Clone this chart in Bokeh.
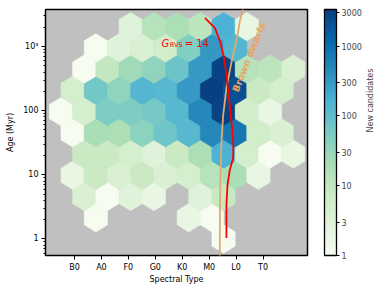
import numpy as np
from bokeh.plotting import figure
from bokeh.models import (Range1d, FixedTicker, LogColorMapper, ColorBar, Label,
                          PrintfTickFormatter, ColumnDataSource, LinearAxis)
from bokeh.embed import file_html
from bokeh.resources import INLINE

# ---------------- data ----------------
spectral_ticks = [10, 20, 30, 40, 50, 60, 70, 80]
spectral_labels = ["B0", "A0", "F0", "G0", "K0", "M0", "L0", "T0"]
age_ticks = [1, 10, 100, 1000]
age_tick_labels = ["1", "10", "100", "10³"]
cbar_ticks = [1, 3, 10, 30, 100, 300, 1000, 3000]

# hexbin grid (spectral type numeric: B0=10 ... T0=80; age in log10 Myr)
sp_min = 5.0
sp_step = 8.62
logage_min = 0.0
logage_step = 0.662

hex_row = [0,
           1, 1, 1,
           2, 2, 2, 2, 2, 2,
           3, 3, 3, 3, 3, 3, 3, 3, 3,
           4, 4, 4, 4, 4, 4, 4, 4, 4, 4,
           5, 5, 5, 5, 5, 5, 5, 5, 5, 5,
           6, 6, 6, 6, 6, 6, 6, 6, 6, 6,
           7, 7, 7, 7, 7, 7, 7, 7, 7, 7,
           8, 8, 8, 8, 8, 8, 8, 8, 8, 8,
           9, 9, 9, 9, 9, 9, 9,
           10, 10, 10, 10, 10, 10]
hex_col = [7,
           1, 5, 6,
           1, 2, 3, 4, 6, 7,
           0, 1, 2, 3, 4, 5, 6, 7, 8,
           1, 2, 3, 4, 5, 6, 7, 8, 9, 10,
           0, 1, 2, 3, 4, 5, 6, 7, 8, 9,
           0, 1, 2, 3, 4, 5, 6, 7, 8, 9,
           0, 1, 2, 3, 4, 5, 6, 7, 8, 9,
           1, 2, 3, 4, 5, 6, 7, 8, 9, 10,
           1, 2, 3, 4, 5, 6, 7,
           3, 4, 5, 6, 7, 8]
hex_count = [1,
             1, 2, 1,
             4, 1, 3, 2, 3, 9,
             2, 8, 4, 8, 4, 5, 14, 20, 2,
             8, 8, 5, 3, 8, 18, 160, 5, 1, 2,
             1, 20, 18, 40, 75, 130, 500, 800, 6, 4,
             1, 5, 55, 55, 65, 130, 500, 3000, 6, 2,
             5, 70, 35, 140, 130, 320, 3350, 2200, 8, 5,
             1, 10, 25, 35, 80, 320, 3000, 14, 12, 4,
             1, 3, 4, 6, 50, 330, 140,
             3, 14, 18, 12, 160, 2]

# G_RVS = 14 limit
grvs_sp = [58.4, 62.1, 64.1, 65.5, 66.4, 67.1, 67.8, 68.4, 68.95, 68.9, 67.65, 66.8, 66.4, 66.4]
grvs_age = [2805, 1958, 1184, 666, 366, 196, 103, 60, 32.6, 18.4, 11.9, 7.0, 3.4, 1.04]

# Brown dwarf limit
bd_sp = [72.9, 71.4, 70.1, 68.3, 66.4, 65.2, 64.56, 64.2, 64.0, 63.93]
bd_age = [4470, 2490, 1214, 577, 227, 86, 33.8, 10.0, 3.05, 0.54]

# ---------------- geometry of hexagons ----------------
r = np.array(hex_row)
i = np.array(hex_col)
cx = sp_min + sp_step * (i + 0.5 * (r % 2))
cy = logage_min + 0.5 * logage_step * r
hx = sp_step * np.array([0.5, 0.5, 0.0, -0.5, -0.5, 0.0])
hy = logage_step / 3.0 * np.array([-0.5, 0.5, 1.0, 0.5, -0.5, -1.0])
xs = [list(x + hx) for x in cx]
ys = [list(10 ** (y + hy)) for y in cy]

# GnBu colormap interpolated to 256 levels
gnbu9 = ["#f7fcf0", "#e0f3db", "#ccebc5", "#a8ddb5", "#7bccc4",
         "#4eb3d3", "#2b8cbe", "#0868ac", "#084081"]
rgb9 = np.array([[int(c[k:k + 2], 16) for k in (1, 3, 5)] for c in gnbu9], float)
t9 = np.linspace(0, 1, 9)
t256 = np.linspace(0, 1, 256)
pal = []
for t in t256:
    rr = np.interp(t, t9, rgb9[:, 0])
    gg = np.interp(t, t9, rgb9[:, 1])
    bb = np.interp(t, t9, rgb9[:, 2])
    pal.append("#%02x%02x%02x" % (int(round(rr)), int(round(gg)), int(round(bb))))

mapper = LogColorMapper(palette=pal, low=1, high=3350)

FONT = "DejaVu Sans"

p = figure(frame_width=262, frame_height=246,
           x_range=Range1d(-0.76, 96.49), y_range=Range1d(0.553, 3777),
           y_axis_type="log", output_backend="svg", toolbar_location=None,
           min_border_left=45, min_border_top=9, min_border_right=66,
           min_border_bottom=28, background_fill_color="#c0c0c0",
           border_fill_color="white")
p.outline_line_color = "black"
p.outline_line_width = 1.5
p.xgrid.visible = False
p.ygrid.visible = False

src = ColumnDataSource(dict(xs=xs, ys=ys, n=hex_count))
p.patches("xs", "ys", source=src,
          fill_color={"field": "n", "transform": mapper},
          line_color={"field": "n", "transform": mapper}, line_width=0.6)

p.line(bd_sp, bd_age, line_color="#e2a96c", line_width=1.8)
p.line(grvs_sp, grvs_age, line_color="red", line_width=1.8)

# axes
p.xaxis.ticker = FixedTicker(ticks=spectral_ticks)
p.xaxis.major_label_overrides = {t: l for t, l in zip(spectral_ticks, spectral_labels)}
p.yaxis.ticker = FixedTicker(ticks=age_ticks,
                             minor_ticks=[0.6, 0.7, 0.8, 0.9] +
                             [2, 3, 4, 5, 6, 7, 8, 9] +
                             [20, 30, 40, 50, 60, 70, 80, 90] +
                             [200, 300, 400, 500, 600, 700, 800, 900] +
                             [2000, 3000])
p.yaxis.major_label_overrides = {t: l for t, l in zip(age_ticks, age_tick_labels)}
p.xaxis.axis_label = "Spectral Type"
p.yaxis.axis_label = "Age (Myr)"
for ax in (p.xaxis, p.yaxis):
    ax.axis_line_color = None
    ax.major_tick_in = 0
    ax.major_tick_out = 4
    ax.minor_tick_in = 0
    ax.minor_tick_out = 2
    ax.major_tick_line_color = "black"
    ax.minor_tick_line_color = "black"
    ax.major_label_text_font = FONT
    ax.major_label_text_font_size = "8px"
    ax.major_label_text_color = "black"
    ax.axis_label_text_font = FONT
    ax.axis_label_text_font_size = "8px"
    ax.axis_label_text_font_style = "normal"
    ax.axis_label_text_color = "black"
    ax.major_label_standoff = 3
p.xaxis.minor_tick_line_color = None
p.xaxis.axis_label_standoff = 0
p.yaxis.axis_label_standoff = 5

# annotations
lab_x = 42.29
lab_y = 1122
p.add_layout(Label(x=lab_x, y=lab_y, text="G", text_color="red", text_font=FONT,
                   text_font_style="italic", text_font_size="10px",
                   text_baseline="alphabetic"))
p.add_layout(Label(x=lab_x, y=lab_y, x_offset=8.3, y_offset=-1.2, text="RVS",
                   text_color="red", text_font=FONT, text_font_size="6.5px",
                   text_baseline="alphabetic"))
p.add_layout(Label(x=lab_x, y=lab_y, x_offset=23.3, text="= 14", text_color="red",
                   text_font=FONT, text_font_size="10px", text_baseline="alphabetic"))
p.add_layout(Label(x=74.7, y=679, text="Brown dwarfs", angle=1.187,
                   text_align="center", text_baseline="middle", text_color="#eaa460",
                   text_font=FONT, text_font_style="bold", text_font_size="9.5px"))

cb = ColorBar(color_mapper=mapper, ticker=FixedTicker(ticks=cbar_ticks),
              formatter=PrintfTickFormatter(format="%d"), width=12, height=246,
              padding=0, margin=0, location=(17, 0), major_tick_in=0,
              major_tick_out=3, major_tick_line_color="black",
              minor_tick_line_color=None,
              bar_line_color="black", bar_line_width=1.3,
              major_label_text_font=FONT, major_label_text_font_size="8px",
              label_standoff=2, border_line_color=None)
p.add_layout(cb, "right")

# colour-bar label as an empty right axis
cb_axis = LinearAxis(ticker=FixedTicker(ticks=[]), axis_label="New candidates",
                     axis_line_color=None, major_tick_line_color=None,
                     minor_tick_line_color=None, major_label_text_font_size="0px",
                     axis_label_text_font=FONT, axis_label_text_font_size="8px",
                     axis_label_text_font_style="normal", axis_label_standoff=6,
                     axis_label_orientation=np.pi / 2)
p.add_layout(cb_axis, "right")

open("out.html", "w").write(file_html(p, INLINE))
